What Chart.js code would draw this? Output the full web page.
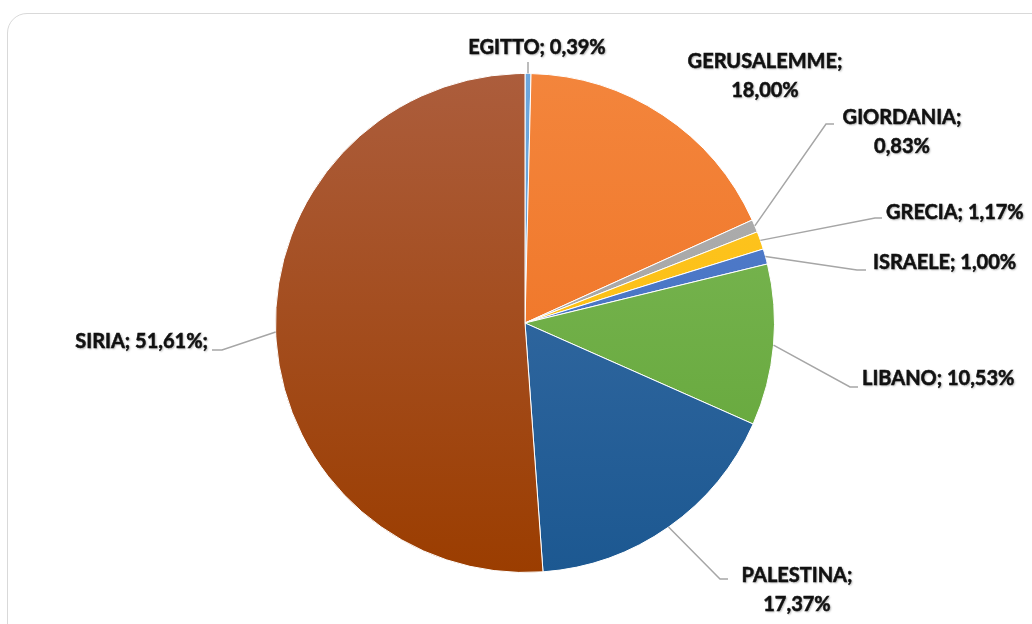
<!DOCTYPE html>
<html>
<head>
<meta charset="utf-8">
<script src="https://cdn.jsdelivr.net/npm/chart.js@4"></script>
<style>
  html, body { margin: 0; padding: 0; background: #fff; overflow: hidden; }
  #wrap { position: relative; width: 1032px; height: 624px; }
  #card { position: absolute; left: 7px; top: 13px; width: 1100px; height: 700px;
          border: 1.5px solid #d9d9d9; border-radius: 20px; box-sizing: border-box; }
  #myChart { position: absolute; left: 0; top: 0; }
</style>
</head>
<body>
<div id="wrap">
  <div id="card"></div>
  <canvas id="myChart" width="1032" height="624"></canvas>
</div>
<script>
'use strict';

// data
let countries = ['EGITTO', 'GERUSALEMME', 'GIORDANIA', 'GRECIA', 'ISRAELE', 'LIBANO', 'PALESTINA', 'SIRIA'];
let percents = [0.39, 18.00, 0.83, 1.17, 1.00, 10.53, 17.37, 51.61];

// slice colours: [light (top), dark (bottom)]
let sliceColors = [
  ['#6ea7dc', '#5393d0'],
  ['#f3853c', '#ee6d1c'],
  ['#b0b0b0', '#9f9f9f'],
  ['#ffc72a', '#f9b900'],
  ['#5580cc', '#3e6bbf'],
  ['#80bb5a', '#60a335'],
  ['#3e71a9', '#1c5891'],
  ['#ac5d3c', '#9b3d00']
];

// label layout: text position, alignment, leader elbow points
let labelLayout = [
  { x: 537, y: 48, align: 'center', split: false, leader: [[528, 62]] },
  { x: 765, y: 62, align: 'center', split: true, leader: null },
  { x: 902, y: 118, align: 'center', split: true, leader: [[826, 124], [834, 124]] },
  { x: 886, y: 213, align: 'left', split: false, leader: [[875, 218], [882, 218]] },
  { x: 873, y: 263, align: 'left', split: false, leader: [[857, 270], [866, 270]] },
  { x: 862, y: 379, align: 'left', split: false, leader: [[850, 387], [858, 387]] },
  { x: 797, y: 576, align: 'center', split: true, leader: [[720, 579], [728, 579]] },
  { x: 208, y: 342, align: 'right', split: false, leader: [[222, 350], [212, 350]] }
];

function fmt(v) {
  return v.toFixed(2).replace('.', ',') + '%';
}

function sliceFill(context) {
  let chart = context.chart;
  let area = chart.chartArea;
  let c = sliceColors[context.dataIndex];
  if (!area) return c[1];
  let g = chart.ctx.createLinearGradient(0, area.top, 0, area.bottom);
  g.addColorStop(0, c[0]);
  g.addColorStop(1, c[1]);
  return g;
}

const labelPlugin = {
  id: 'pieLabels',
  afterDatasetsDraw(chart) {
    let ctx = chart.ctx;
    let meta = chart.getDatasetMeta(0);
    ctx.save();
    meta.data.forEach(function (arc, i) {
      let p = arc.getProps(['x', 'y', 'startAngle', 'endAngle', 'outerRadius'], true);
      let mid = (p.startAngle + p.endAngle) / 2;
      let ax = p.x + Math.cos(mid) * p.outerRadius;
      let ay = p.y + Math.sin(mid) * p.outerRadius;
      let lay = labelLayout[i];
      if (lay.leader) {
        ctx.strokeStyle = '#a6a6a6';
        ctx.lineWidth = 1.5;
        ctx.beginPath();
        ctx.moveTo(ax, ay);
        lay.leader.forEach(function (pt) { ctx.lineTo(pt[0], pt[1]); });
        ctx.stroke();
      }
      ctx.font = 'bold 20px Lato';
      ctx.fillStyle = '#111111';
      ctx.strokeStyle = '#111111';
      ctx.lineWidth = 0.5;
      ctx.textAlign = lay.align;
      ctx.textBaseline = 'middle';
      let name = countries[i] + ';';
      let val = fmt(percents[i]);
      if (i === 7) val += ';';
      let lines = lay.split ? [name, val] : [name + ' ' + val];
      lines.forEach(function (t, k) {
        let y = lay.y + k * 29;
        ctx.shadowColor = 'rgba(0,0,0,0.35)';
        ctx.shadowBlur = 2;
        ctx.shadowOffsetX = 1;
        ctx.shadowOffsetY = 1;
        ctx.fillText(t, lay.x, y);
        ctx.shadowColor = 'transparent';
        ctx.strokeText(t, lay.x, y);
      });
    });
    ctx.restore();
  }
};

let ctx = document.getElementById('myChart');
let myChart = new Chart(ctx, {
  type: 'pie',
  data: {
    labels: countries,
    datasets: [{
      data: percents,
      backgroundColor: sliceFill,
      borderColor: '#ffffff',
      borderWidth: 1
    }]
  },
  options: {
    responsive: false,
    animation: false,
    layout: { padding: { left: 275, right: 257, top: 73, bottom: 51 } },
    plugins: {
      legend: { display: false },
      tooltip: { enabled: false }
    }
  },
  plugins: [labelPlugin]
});
</script>
</body>
</html>
